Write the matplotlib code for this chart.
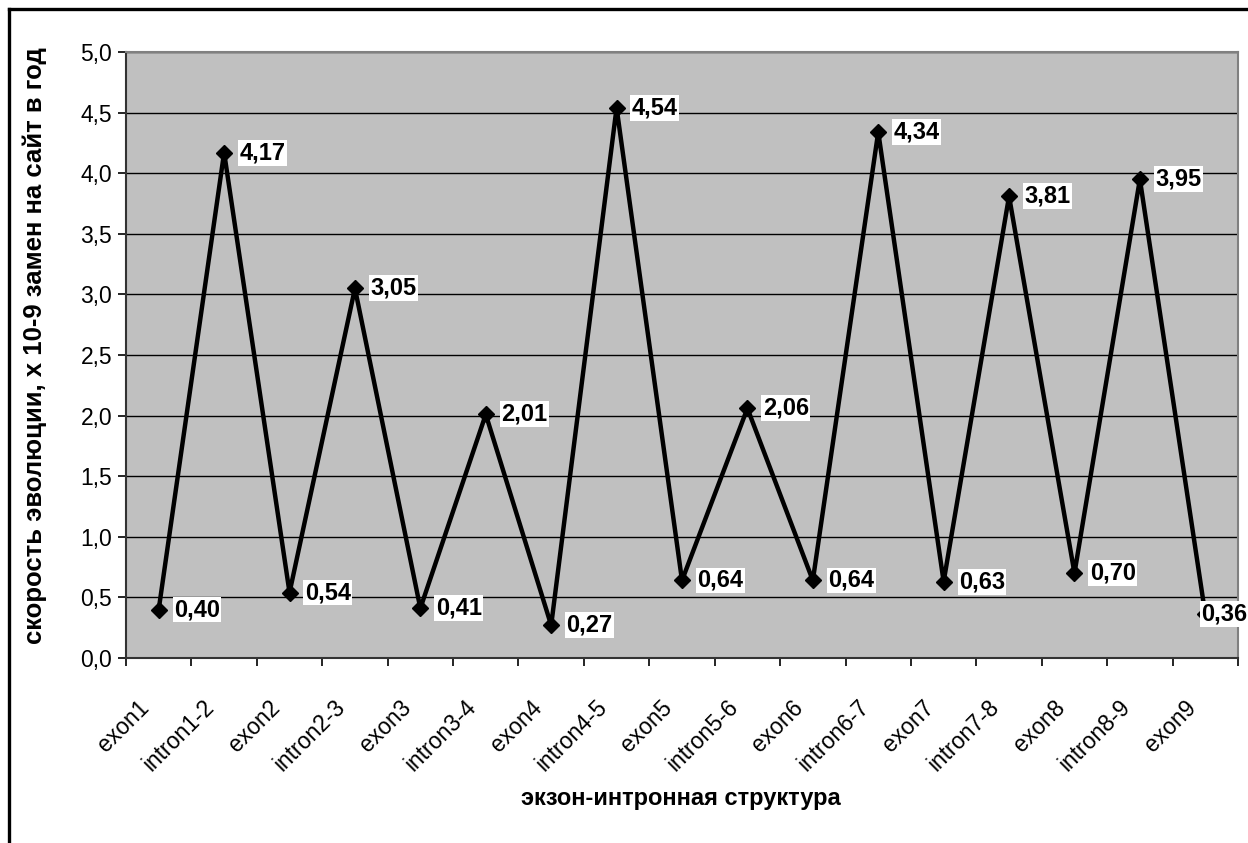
import numpy as np
import matplotlib
matplotlib.use("Agg")
import matplotlib.pyplot as plt
import matplotlib.transforms as mtransforms
from matplotlib.lines import Line2D

plt.rcParams['font.family'] = ['Liberation Sans', 'DejaVu Sans']

# categories along the gene structure and evolution rate values
categories = ['exon1', 'intron1-2', 'exon2', 'intron2-3', 'exon3', 'intron3-4',
              'exon4', 'intron4-5', 'exon5', 'intron5-6', 'exon6', 'intron6-7',
              'exon7', 'intron7-8', 'exon8', 'intron8-9', 'exon9']
rates = [0.40, 4.17, 0.54, 3.05, 0.41, 2.01, 0.27, 4.54, 0.64, 2.06,
         0.64, 4.34, 0.63, 3.81, 0.70, 3.95, 0.36]
y_ticks = [0.0, 0.5, 1.0, 1.5, 2.0, 2.5, 3.0, 3.5, 4.0, 4.5, 5.0]

fig = plt.figure(figsize=(12.48, 8.43), dpi=100)
ax = fig.add_axes([126/1248, 1 - 658/843, (1238 - 126)/1248, (658 - 52)/843])
ax.set_facecolor('#c0c0c0')

x = np.arange(len(categories)) + 0.5
ax.plot(x, rates, color='black', lw=3.2, marker='D', markersize=8,
        markerfacecolor='black', zorder=3, clip_on=False)

for i, (xi, v) in enumerate(zip(x, rates)):
    # last label is pushed onto the marker so it stays inside the picture
    dx = 11 if i < len(rates) - 1 else -3
    ax.annotate(f'{v:.2f}'.replace('.', ','), (xi, v), xytext=(dx, 0),
                textcoords='offset points', ha='left', va='center',
                fontsize=17, fontweight='bold', zorder=5, annotation_clip=False,
                bbox=dict(boxstyle='square,pad=0.06', fc='white', ec='none'))

ax.set_xlim(0, len(categories))
ax.set_ylim(0, 5)
ax.set_yticks(y_ticks)
ax.set_yticklabels([f'{t:.1f}'.replace('.', ',') for t in y_ticks], fontsize=16.5)
ax.set_xticks(np.arange(len(categories) + 1))
ax.set_xticklabels([])
ax.set_xticks(x, minor=True)
ax.set_xticklabels(categories, minor=True, rotation=45, ha='right', va='center',
                   rotation_mode='anchor', fontsize=16.5)
ax.tick_params(axis='x', which='minor', length=0, pad=33)
shift = mtransforms.ScaledTranslation(-13/100, 0, fig.dpi_scale_trans)
for lbl in ax.get_xticklabels(minor=True):
    lbl.set_transform(lbl.get_transform() + shift)
ax.tick_params(axis='x', which='major', length=6, width=1.2, direction='out')
ax.tick_params(axis='y', length=6, width=1.2, direction='out', pad=4)

ax.yaxis.grid(True, color='black', lw=1)
ax.set_axisbelow(True)
for s in ['top', 'right']:
    ax.spines[s].set_color('#808080')
    ax.spines[s].set_linewidth(1.5)
for s in ['left', 'bottom']:
    ax.spines[s].set_color('#333333')
    ax.spines[s].set_linewidth(1.5)

ax.set_ylabel('скорость эволюции, х 10-9 замен на сайт в год', fontsize=18.5,
              fontweight='bold')
ax.yaxis.set_label_coords(-0.071, 0.516)
fig.text(681/1248, 1 - 799/843, 'экзон-интронная структура', ha='center',
         va='center', fontsize=17, fontweight='bold')

# outer frame of the document figure
fig.add_artist(Line2D([8.5/1248, 8.5/1248], [0, 1 - 8.5/843], transform=fig.transFigure,
                      color='black', lw=2.4))
fig.add_artist(Line2D([8.5/1248, 1], [1 - 8.5/843, 1 - 8.5/843], transform=fig.transFigure,
                      color='black', lw=2.4))

fig.savefig('out.png', dpi=100, facecolor='white')
